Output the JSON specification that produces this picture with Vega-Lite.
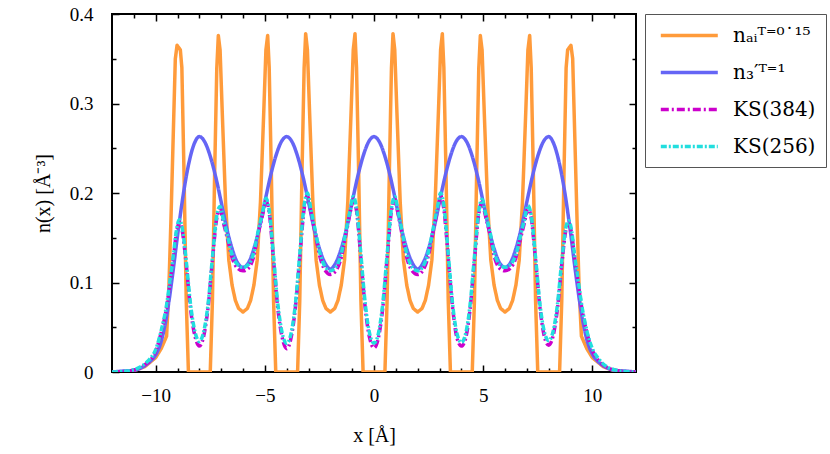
{
  "$schema": "https://vega.github.io/schema/vega-lite/v6.json",
  "width": 524,
  "height": 358,
  "autosize": "none",
  "padding": {"left": 112, "top": 14, "right": 194, "bottom": 82},
  "config": {
    "view": {"stroke": "black", "strokeWidth": 2},
    "font": "Liberation Serif",
    "axis": {
      "grid": false,
      "domain": false,
      "zindex": 1,
      "tickColor": "black",
      "tickWidth": 1.5,
      "labelFont": "Liberation Serif",
      "labelFontSize": 19,
      "labelColor": "black",
      "titleFont": "Liberation Serif",
      "titleFontSize": 20,
      "titleFontWeight": "normal",
      "titleColor": "black"
    },
    "legend": {
      "orient": "none",
      "legendX": 533,
      "legendY": 0,
      "fillColor": "white",
      "strokeColor": "#555555",
      "padding": 10,
      "symbolType": "M-0.6,0H5.4",
      "symbolSize": 361,
      "symbolFillColor": "transparent",
      "labelOffset": 55,
      "labelFont": "DejaVu Serif",
      "labelFontSize": 20,
      "labelColor": "black",
      "labelLimit": 200,
      "rowPadding": 15
    }
  },
  "data": {
    "values": [
      {"s":"o","x":-12,"y":0},{"s":"o","x":-11.5,"y":0.0003},{"s":"o","x":-11,"y":0.0015},{"s":"o","x":-10.5,"y":0.006},{"s":"o","x":-10,"y":0.016},{"s":"o","x":-9.75,"y":0.026},{"s":"o","x":-9.5,"y":0.04},{"s":"o","x":-9.4,"y":0.09},{"s":"o","x":-9.3,"y":0.17},{"s":"o","x":-9.2,"y":0.26},{"s":"o","x":-9.1,"y":0.35},{"s":"o","x":-9.02,"y":0.365},{"s":"o","x":-8.87,"y":0.36},{"s":"o","x":-8.8,"y":0.34},{"s":"o","x":-8.7,"y":0.22},{"s":"o","x":-8.6,"y":0.08},{"s":"o","x":-8.5,"y":0},
      {"s":"o","x":-7.5,"y":0},{"s":"o","x":-7.4,"y":0.08},{"s":"o","x":-7.3,"y":0.22},{"s":"o","x":-7.2,"y":0.34},{"s":"o","x":-7.13,"y":0.376},{"s":"o","x":-7.05,"y":0.36},{"s":"o","x":-6.95,"y":0.29},{"s":"o","x":-6.8,"y":0.19},{"s":"o","x":-6.65,"y":0.125},{"s":"o","x":-6.5,"y":0.097},{"s":"o","x":-6.35,"y":0.08},{"s":"o","x":-6.2,"y":0.071},{"s":"o","x":-6,"y":0.067},{"s":"o","x":-5.8,"y":0.071},{"s":"o","x":-5.65,"y":0.08},{"s":"o","x":-5.5,"y":0.097},{"s":"o","x":-5.35,"y":0.125},{"s":"o","x":-5.2,"y":0.19},{"s":"o","x":-5.05,"y":0.29},{"s":"o","x":-4.95,"y":0.36},{"s":"o","x":-4.87,"y":0.376},{"s":"o","x":-4.8,"y":0.34},{"s":"o","x":-4.7,"y":0.22},{"s":"o","x":-4.6,"y":0.08},{"s":"o","x":-4.5,"y":0},
      {"s":"o","x":-3.5,"y":0},{"s":"o","x":-3.4,"y":0.08},{"s":"o","x":-3.3,"y":0.22},{"s":"o","x":-3.2,"y":0.34},{"s":"o","x":-3.13,"y":0.378},{"s":"o","x":-3.05,"y":0.36},{"s":"o","x":-2.95,"y":0.29},{"s":"o","x":-2.8,"y":0.19},{"s":"o","x":-2.65,"y":0.125},{"s":"o","x":-2.5,"y":0.097},{"s":"o","x":-2.35,"y":0.08},{"s":"o","x":-2.2,"y":0.071},{"s":"o","x":-2,"y":0.067},{"s":"o","x":-1.8,"y":0.071},{"s":"o","x":-1.65,"y":0.08},{"s":"o","x":-1.5,"y":0.097},{"s":"o","x":-1.35,"y":0.125},{"s":"o","x":-1.2,"y":0.19},{"s":"o","x":-1.05,"y":0.29},{"s":"o","x":-0.95,"y":0.36},{"s":"o","x":-0.87,"y":0.378},{"s":"o","x":-0.8,"y":0.34},{"s":"o","x":-0.7,"y":0.22},{"s":"o","x":-0.6,"y":0.08},{"s":"o","x":-0.5,"y":0},
      {"s":"o","x":0.5,"y":0},{"s":"o","x":0.6,"y":0.08},{"s":"o","x":0.7,"y":0.22},{"s":"o","x":0.8,"y":0.34},{"s":"o","x":0.87,"y":0.378},{"s":"o","x":0.95,"y":0.36},{"s":"o","x":1.05,"y":0.29},{"s":"o","x":1.2,"y":0.19},{"s":"o","x":1.35,"y":0.125},{"s":"o","x":1.5,"y":0.097},{"s":"o","x":1.65,"y":0.08},{"s":"o","x":1.8,"y":0.071},{"s":"o","x":2,"y":0.067},{"s":"o","x":2.2,"y":0.071},{"s":"o","x":2.35,"y":0.08},{"s":"o","x":2.5,"y":0.097},{"s":"o","x":2.65,"y":0.125},{"s":"o","x":2.8,"y":0.19},{"s":"o","x":2.95,"y":0.29},{"s":"o","x":3.05,"y":0.36},{"s":"o","x":3.13,"y":0.378},{"s":"o","x":3.2,"y":0.34},{"s":"o","x":3.3,"y":0.22},{"s":"o","x":3.4,"y":0.08},{"s":"o","x":3.5,"y":0},
      {"s":"o","x":4.5,"y":0},{"s":"o","x":4.6,"y":0.08},{"s":"o","x":4.7,"y":0.22},{"s":"o","x":4.8,"y":0.34},{"s":"o","x":4.87,"y":0.376},{"s":"o","x":4.95,"y":0.36},{"s":"o","x":5.05,"y":0.29},{"s":"o","x":5.2,"y":0.19},{"s":"o","x":5.35,"y":0.125},{"s":"o","x":5.5,"y":0.097},{"s":"o","x":5.65,"y":0.08},{"s":"o","x":5.8,"y":0.071},{"s":"o","x":6,"y":0.067},{"s":"o","x":6.2,"y":0.071},{"s":"o","x":6.35,"y":0.08},{"s":"o","x":6.5,"y":0.097},{"s":"o","x":6.65,"y":0.125},{"s":"o","x":6.8,"y":0.19},{"s":"o","x":6.95,"y":0.29},{"s":"o","x":7.05,"y":0.36},{"s":"o","x":7.13,"y":0.376},{"s":"o","x":7.2,"y":0.34},{"s":"o","x":7.3,"y":0.22},{"s":"o","x":7.4,"y":0.08},{"s":"o","x":7.5,"y":0},
      {"s":"o","x":8.5,"y":0},{"s":"o","x":8.6,"y":0.08},{"s":"o","x":8.7,"y":0.22},{"s":"o","x":8.8,"y":0.34},{"s":"o","x":8.87,"y":0.36},{"s":"o","x":9.02,"y":0.365},{"s":"o","x":9.1,"y":0.35},{"s":"o","x":9.2,"y":0.26},{"s":"o","x":9.3,"y":0.17},{"s":"o","x":9.4,"y":0.09},{"s":"o","x":9.5,"y":0.04},{"s":"o","x":9.75,"y":0.026},{"s":"o","x":10,"y":0.016},{"s":"o","x":10.5,"y":0.006},{"s":"o","x":11,"y":0.0015},{"s":"o","x":11.5,"y":0.0003},{"s":"o","x":12,"y":0},

      {"s":"b","x":-12,"y":0},{"s":"b","x":-11.5,"y":0.001},{"s":"b","x":-11,"y":0.002},{"s":"b","x":-10.5,"y":0.007},{"s":"b","x":-10.25,"y":0.012},{"s":"b","x":-10,"y":0.019},{"s":"b","x":-9.75,"y":0.034},{"s":"b","x":-9.5,"y":0.062},{"s":"b","x":-9.25,"y":0.104},{"s":"b","x":-9,"y":0.152},{"s":"b","x":-8.75,"y":0.196},{"s":"b","x":-8.5,"y":0.231},{"s":"b","x":-8.25,"y":0.254},{"s":"b","x":-8,"y":0.263},
      {"s":"b","x":-7.75,"y":0.257},{"s":"b","x":-7.5,"y":0.241},{"s":"b","x":-7.25,"y":0.218},{"s":"b","x":-7,"y":0.19},{"s":"b","x":-6.75,"y":0.161},{"s":"b","x":-6.5,"y":0.138},{"s":"b","x":-6.25,"y":0.122},{"s":"b","x":-6,"y":0.117},{"s":"b","x":-5.75,"y":0.122},{"s":"b","x":-5.5,"y":0.138},{"s":"b","x":-5.25,"y":0.161},{"s":"b","x":-5,"y":0.19},{"s":"b","x":-4.75,"y":0.218},{"s":"b","x":-4.5,"y":0.241},{"s":"b","x":-4.25,"y":0.257},{"s":"b","x":-4,"y":0.263},
      {"s":"b","x":-3.75,"y":0.257},{"s":"b","x":-3.5,"y":0.241},{"s":"b","x":-3.25,"y":0.218},{"s":"b","x":-3,"y":0.19},{"s":"b","x":-2.75,"y":0.161},{"s":"b","x":-2.5,"y":0.138},{"s":"b","x":-2.25,"y":0.122},{"s":"b","x":-2,"y":0.115},{"s":"b","x":-1.75,"y":0.122},{"s":"b","x":-1.5,"y":0.138},{"s":"b","x":-1.25,"y":0.161},{"s":"b","x":-1,"y":0.19},{"s":"b","x":-0.75,"y":0.218},{"s":"b","x":-0.5,"y":0.241},{"s":"b","x":-0.25,"y":0.257},{"s":"b","x":0,"y":0.263},
      {"s":"b","x":0.25,"y":0.257},{"s":"b","x":0.5,"y":0.241},{"s":"b","x":0.75,"y":0.218},{"s":"b","x":1,"y":0.19},{"s":"b","x":1.25,"y":0.161},{"s":"b","x":1.5,"y":0.138},{"s":"b","x":1.75,"y":0.122},{"s":"b","x":2,"y":0.115},{"s":"b","x":2.25,"y":0.122},{"s":"b","x":2.5,"y":0.138},{"s":"b","x":2.75,"y":0.161},{"s":"b","x":3,"y":0.19},{"s":"b","x":3.25,"y":0.218},{"s":"b","x":3.5,"y":0.241},{"s":"b","x":3.75,"y":0.257},{"s":"b","x":4,"y":0.263},
      {"s":"b","x":4.25,"y":0.257},{"s":"b","x":4.5,"y":0.241},{"s":"b","x":4.75,"y":0.218},{"s":"b","x":5,"y":0.19},{"s":"b","x":5.25,"y":0.161},{"s":"b","x":5.5,"y":0.138},{"s":"b","x":5.75,"y":0.122},{"s":"b","x":6,"y":0.117},{"s":"b","x":6.25,"y":0.122},{"s":"b","x":6.5,"y":0.138},{"s":"b","x":6.75,"y":0.161},{"s":"b","x":7,"y":0.19},{"s":"b","x":7.25,"y":0.218},{"s":"b","x":7.5,"y":0.241},{"s":"b","x":7.75,"y":0.257},{"s":"b","x":8,"y":0.263},
      {"s":"b","x":8.25,"y":0.254},{"s":"b","x":8.5,"y":0.232},{"s":"b","x":8.75,"y":0.199},{"s":"b","x":9,"y":0.156},{"s":"b","x":9.25,"y":0.108},{"s":"b","x":9.5,"y":0.066},{"s":"b","x":9.75,"y":0.036},{"s":"b","x":10,"y":0.02},{"s":"b","x":10.25,"y":0.012},{"s":"b","x":10.5,"y":0.007},{"s":"b","x":11,"y":0.002},{"s":"b","x":11.5,"y":0.001},{"s":"b","x":12,"y":0},

      {"s":"m","x":-12,"y":0},{"s":"m","x":-11.5,"y":0.0005},{"s":"m","x":-11,"y":0.002},{"s":"m","x":-10.5,"y":0.008},{"s":"m","x":-10.25,"y":0.013},{"s":"m","x":-10,"y":0.023},{"s":"m","x":-9.75,"y":0.044},{"s":"m","x":-9.5,"y":0.072},{"s":"m","x":-9.35,"y":0.098},{"s":"m","x":-9.2,"y":0.125},{"s":"m","x":-9.05,"y":0.155},{"s":"m","x":-8.92,"y":0.167},{"s":"m","x":-8.8,"y":0.16},{"s":"m","x":-8.6,"y":0.12},{"s":"m","x":-8.4,"y":0.07},{"s":"m","x":-8.2,"y":0.04},{"s":"m","x":-8,"y":0.029},
      {"s":"m","x":-7.8,"y":0.04},{"s":"m","x":-7.6,"y":0.072},{"s":"m","x":-7.4,"y":0.125},{"s":"m","x":-7.2,"y":0.172},{"s":"m","x":-7.05,"y":0.182},{"s":"m","x":-6.9,"y":0.167},{"s":"m","x":-6.7,"y":0.148},{"s":"m","x":-6.5,"y":0.128},{"s":"m","x":-6.25,"y":0.116},{"s":"m","x":-6,"y":0.113},{"s":"m","x":-5.75,"y":0.116},{"s":"m","x":-5.5,"y":0.13},{"s":"m","x":-5.3,"y":0.155},{"s":"m","x":-5.1,"y":0.176},{"s":"m","x":-4.95,"y":0.191},{"s":"m","x":-4.8,"y":0.178},{"s":"m","x":-4.6,"y":0.125},{"s":"m","x":-4.4,"y":0.07},{"s":"m","x":-4.2,"y":0.038},{"s":"m","x":-4,"y":0.026},
      {"s":"m","x":-3.8,"y":0.038},{"s":"m","x":-3.6,"y":0.072},{"s":"m","x":-3.4,"y":0.128},{"s":"m","x":-3.2,"y":0.182},{"s":"m","x":-3.05,"y":0.197},{"s":"m","x":-2.9,"y":0.18},{"s":"m","x":-2.7,"y":0.156},{"s":"m","x":-2.5,"y":0.131},{"s":"m","x":-2.25,"y":0.114},{"s":"m","x":-2,"y":0.109},{"s":"m","x":-1.75,"y":0.113},{"s":"m","x":-1.5,"y":0.128},{"s":"m","x":-1.3,"y":0.152},{"s":"m","x":-1.1,"y":0.177},{"s":"m","x":-0.95,"y":0.193},{"s":"m","x":-0.8,"y":0.18},{"s":"m","x":-0.6,"y":0.127},{"s":"m","x":-0.4,"y":0.071},{"s":"m","x":-0.2,"y":0.038},{"s":"m","x":0,"y":0.027},
      {"s":"m","x":0.2,"y":0.038},{"s":"m","x":0.4,"y":0.071},{"s":"m","x":0.6,"y":0.127},{"s":"m","x":0.8,"y":0.18},{"s":"m","x":0.95,"y":0.193},{"s":"m","x":1.1,"y":0.177},{"s":"m","x":1.3,"y":0.152},{"s":"m","x":1.5,"y":0.128},{"s":"m","x":1.75,"y":0.113},{"s":"m","x":2,"y":0.109},{"s":"m","x":2.25,"y":0.114},{"s":"m","x":2.5,"y":0.131},{"s":"m","x":2.7,"y":0.156},{"s":"m","x":2.9,"y":0.18},{"s":"m","x":3.05,"y":0.197},{"s":"m","x":3.2,"y":0.182},{"s":"m","x":3.4,"y":0.128},{"s":"m","x":3.6,"y":0.072},{"s":"m","x":3.8,"y":0.038},{"s":"m","x":4,"y":0.029},
      {"s":"m","x":4.2,"y":0.038},{"s":"m","x":4.4,"y":0.07},{"s":"m","x":4.6,"y":0.125},{"s":"m","x":4.8,"y":0.177},{"s":"m","x":4.95,"y":0.19},{"s":"m","x":5.1,"y":0.175},{"s":"m","x":5.3,"y":0.155},{"s":"m","x":5.5,"y":0.13},{"s":"m","x":5.75,"y":0.116},{"s":"m","x":6,"y":0.113},{"s":"m","x":6.25,"y":0.116},{"s":"m","x":6.5,"y":0.128},{"s":"m","x":6.7,"y":0.148},{"s":"m","x":6.9,"y":0.168},{"s":"m","x":7.05,"y":0.183},{"s":"m","x":7.2,"y":0.172},{"s":"m","x":7.4,"y":0.125},{"s":"m","x":7.6,"y":0.072},{"s":"m","x":7.8,"y":0.04},{"s":"m","x":8,"y":0.03},
      {"s":"m","x":8.2,"y":0.04},{"s":"m","x":8.4,"y":0.07},{"s":"m","x":8.6,"y":0.12},{"s":"m","x":8.8,"y":0.16},{"s":"m","x":8.92,"y":0.166},{"s":"m","x":9.05,"y":0.155},{"s":"m","x":9.2,"y":0.125},{"s":"m","x":9.35,"y":0.1},{"s":"m","x":9.5,"y":0.074},{"s":"m","x":9.75,"y":0.044},{"s":"m","x":10,"y":0.024},{"s":"m","x":10.25,"y":0.014},{"s":"m","x":10.5,"y":0.008},{"s":"m","x":11,"y":0.002},{"s":"m","x":11.5,"y":0.0005},{"s":"m","x":12,"y":0},

      {"s":"c","x":-12,"y":0},{"s":"c","x":-11.5,"y":0.0006},{"s":"c","x":-11,"y":0.0025},{"s":"c","x":-10.5,"y":0.009},{"s":"c","x":-10.25,"y":0.015},{"s":"c","x":-10,"y":0.025},{"s":"c","x":-9.75,"y":0.046},{"s":"c","x":-9.5,"y":0.075},{"s":"c","x":-9.35,"y":0.101},{"s":"c","x":-9.2,"y":0.128},{"s":"c","x":-9.05,"y":0.158},{"s":"c","x":-8.92,"y":0.17},{"s":"c","x":-8.8,"y":0.163},{"s":"c","x":-8.6,"y":0.124},{"s":"c","x":-8.4,"y":0.075},{"s":"c","x":-8.2,"y":0.045},{"s":"c","x":-8,"y":0.034},
      {"s":"c","x":-7.8,"y":0.045},{"s":"c","x":-7.6,"y":0.076},{"s":"c","x":-7.4,"y":0.128},{"s":"c","x":-7.2,"y":0.175},{"s":"c","x":-7.05,"y":0.185},{"s":"c","x":-6.9,"y":0.17},{"s":"c","x":-6.7,"y":0.151},{"s":"c","x":-6.5,"y":0.131},{"s":"c","x":-6.25,"y":0.12},{"s":"c","x":-6,"y":0.117},{"s":"c","x":-5.75,"y":0.12},{"s":"c","x":-5.5,"y":0.134},{"s":"c","x":-5.3,"y":0.158},{"s":"c","x":-5.1,"y":0.179},{"s":"c","x":-4.95,"y":0.194},{"s":"c","x":-4.8,"y":0.181},{"s":"c","x":-4.6,"y":0.129},{"s":"c","x":-4.4,"y":0.075},{"s":"c","x":-4.2,"y":0.043},{"s":"c","x":-4,"y":0.032},
      {"s":"c","x":-3.8,"y":0.043},{"s":"c","x":-3.6,"y":0.076},{"s":"c","x":-3.4,"y":0.132},{"s":"c","x":-3.2,"y":0.186},{"s":"c","x":-3.05,"y":0.2},{"s":"c","x":-2.9,"y":0.183},{"s":"c","x":-2.7,"y":0.159},{"s":"c","x":-2.5,"y":0.135},{"s":"c","x":-2.25,"y":0.118},{"s":"c","x":-2,"y":0.113},{"s":"c","x":-1.75,"y":0.117},{"s":"c","x":-1.5,"y":0.132},{"s":"c","x":-1.3,"y":0.155},{"s":"c","x":-1.1,"y":0.18},{"s":"c","x":-0.95,"y":0.196},{"s":"c","x":-0.8,"y":0.183},{"s":"c","x":-0.6,"y":0.131},{"s":"c","x":-0.4,"y":0.076},{"s":"c","x":-0.2,"y":0.043},{"s":"c","x":0,"y":0.032},
      {"s":"c","x":0.2,"y":0.043},{"s":"c","x":0.4,"y":0.076},{"s":"c","x":0.6,"y":0.131},{"s":"c","x":0.8,"y":0.183},{"s":"c","x":0.95,"y":0.196},{"s":"c","x":1.1,"y":0.18},{"s":"c","x":1.3,"y":0.155},{"s":"c","x":1.5,"y":0.132},{"s":"c","x":1.75,"y":0.117},{"s":"c","x":2,"y":0.113},{"s":"c","x":2.25,"y":0.118},{"s":"c","x":2.5,"y":0.135},{"s":"c","x":2.7,"y":0.159},{"s":"c","x":2.9,"y":0.183},{"s":"c","x":3.05,"y":0.2},{"s":"c","x":3.2,"y":0.186},{"s":"c","x":3.4,"y":0.132},{"s":"c","x":3.6,"y":0.076},{"s":"c","x":3.8,"y":0.043},{"s":"c","x":4,"y":0.033},
      {"s":"c","x":4.2,"y":0.043},{"s":"c","x":4.4,"y":0.075},{"s":"c","x":4.6,"y":0.129},{"s":"c","x":4.8,"y":0.18},{"s":"c","x":4.95,"y":0.193},{"s":"c","x":5.1,"y":0.178},{"s":"c","x":5.3,"y":0.158},{"s":"c","x":5.5,"y":0.134},{"s":"c","x":5.75,"y":0.12},{"s":"c","x":6,"y":0.117},{"s":"c","x":6.25,"y":0.12},{"s":"c","x":6.5,"y":0.131},{"s":"c","x":6.7,"y":0.151},{"s":"c","x":6.9,"y":0.171},{"s":"c","x":7.05,"y":0.186},{"s":"c","x":7.2,"y":0.175},{"s":"c","x":7.4,"y":0.128},{"s":"c","x":7.6,"y":0.076},{"s":"c","x":7.8,"y":0.045},{"s":"c","x":8,"y":0.035},
      {"s":"c","x":8.2,"y":0.045},{"s":"c","x":8.4,"y":0.075},{"s":"c","x":8.6,"y":0.124},{"s":"c","x":8.8,"y":0.163},{"s":"c","x":8.92,"y":0.169},{"s":"c","x":9.05,"y":0.158},{"s":"c","x":9.2,"y":0.128},{"s":"c","x":9.35,"y":0.103},{"s":"c","x":9.5,"y":0.077},{"s":"c","x":9.75,"y":0.046},{"s":"c","x":10,"y":0.026},{"s":"c","x":10.25,"y":0.016},{"s":"c","x":10.5,"y":0.009},{"s":"c","x":11,"y":0.0025},{"s":"c","x":11.5,"y":0.0006},{"s":"c","x":12,"y":0}
    ]
  },
  "layer": [
    {
      "transform": [{"filter": "datum.s === 'o'"}],
      "mark": {"type": "line", "clip": true, "interpolate": "linear", "strokeJoin": "round"},
      "encoding": {
        "x": {"field": "x", "type": "quantitative", "scale": {"domain": [-12, 12], "nice": false, "zero": false},
          "axis": {"orient": "bottom", "title": "x [Å]", "values": [-10,-5,0,5,10], "offset": -7, "tickSize": 7,
            "labelPadding": 14, "titlePadding": 20, "labelFlush": false}},
        "y": {"field": "y", "type": "quantitative", "scale": {"domain": [0, 0.4], "nice": false},
          "axis": {"orient": "left", "title": "n(x) [Å⁻³]", "values": [0,0.1,0.2,0.3,0.4], "format": "~g", "offset": -7, "tickSize": 7,
            "labelPadding": 19, "titlePadding": 16, "labelFlush": false}},
        "color": {"field": "s", "type": "nominal", "scale": {"domain": ["o","b","m","c"], "range": ["#ff9b3b","#6565f5","#cc00cc","#22dede"]},
          "legend": {"title": null, "labelExpr": "datum.value === 'o' ? 'nₐᵢᵀ⁼⁰˙¹⁵' : datum.value === 'b' ? 'n₃′ᵀ⁼¹' : datum.value === 'm' ? 'KS(384)' : 'KS(256)'"}},
        "strokeDash": {"field": "s", "type": "nominal", "scale": {"domain": ["o","b","m","c"], "range": [[1,0],[1,0],[8,3,2,3],[6,2,2,2]]},
          "legend": {"title": null, "labelExpr": "datum.value === 'o' ? 'nₐᵢᵀ⁼⁰˙¹⁵' : datum.value === 'b' ? 'n₃′ᵀ⁼¹' : datum.value === 'm' ? 'KS(384)' : 'KS(256)'"}},
        "strokeWidth": {"field": "s", "type": "nominal", "scale": {"domain": ["o","b","m","c"], "range": [3.5,3.5,2.5,1.6]},
          "legend": {"title": null, "labelExpr": "datum.value === 'o' ? 'nₐᵢᵀ⁼⁰˙¹⁵' : datum.value === 'b' ? 'n₃′ᵀ⁼¹' : datum.value === 'm' ? 'KS(384)' : 'KS(256)'"}}
      }
    },
    {
      "transform": [{"filter": "datum.s === 'b'"}],
      "mark": {"type": "line", "clip": true, "interpolate": "monotone"},
      "encoding": {
        "x": {"field": "x", "type": "quantitative",
          "axis": {"orient": "bottom", "title": null, "labels": false, "values": [-11,-9,-8,-7,-6,-4,-3,-2,-1,1,2,3,4,6,7,8,9,11], "offset": -4, "tickSize": 4}},
        "y": {"field": "y", "type": "quantitative",
          "axis": {"orient": "left", "title": null, "labels": false, "values": [0.05,0.15,0.25,0.35], "offset": -4, "tickSize": 4}},
        "color": {"field": "s", "type": "nominal"},
        "strokeDash": {"field": "s", "type": "nominal"},
        "strokeWidth": {"field": "s", "type": "nominal"}
      }
    },
    {
      "transform": [{"filter": "datum.s === 'm'"}],
      "mark": {"type": "line", "clip": true, "interpolate": "monotone"},
      "encoding": {
        "x": {"field": "x", "type": "quantitative",
          "axis": {"orient": "top", "title": null, "labels": false, "values": [-10,-5,0,5,10], "offset": -7, "tickSize": 7}},
        "y": {"field": "y", "type": "quantitative",
          "axis": {"orient": "right", "title": null, "labels": false, "values": [0.1,0.2,0.3], "offset": -7, "tickSize": 7}},
        "color": {"field": "s", "type": "nominal"},
        "strokeDash": {"field": "s", "type": "nominal"},
        "strokeWidth": {"field": "s", "type": "nominal"}
      }
    },
    {
      "transform": [{"filter": "datum.s === 'c'"}],
      "mark": {"type": "line", "clip": true, "interpolate": "monotone"},
      "encoding": {
        "x": {"field": "x", "type": "quantitative",
          "axis": {"orient": "top", "title": null, "labels": false, "values": [-11,-9,-8,-7,-6,-4,-3,-2,-1,1,2,3,4,6,7,8,9,11], "offset": -4, "tickSize": 4}},
        "y": {"field": "y", "type": "quantitative",
          "axis": {"orient": "right", "title": null, "labels": false, "values": [0.05,0.15,0.25,0.35], "offset": -4, "tickSize": 4}},
        "color": {"field": "s", "type": "nominal"},
        "strokeDash": {"field": "s", "type": "nominal"},
        "strokeWidth": {"field": "s", "type": "nominal"}
      }
    }
  ],
  "resolve": {"axis": {"x": "independent", "y": "independent"}}
}
